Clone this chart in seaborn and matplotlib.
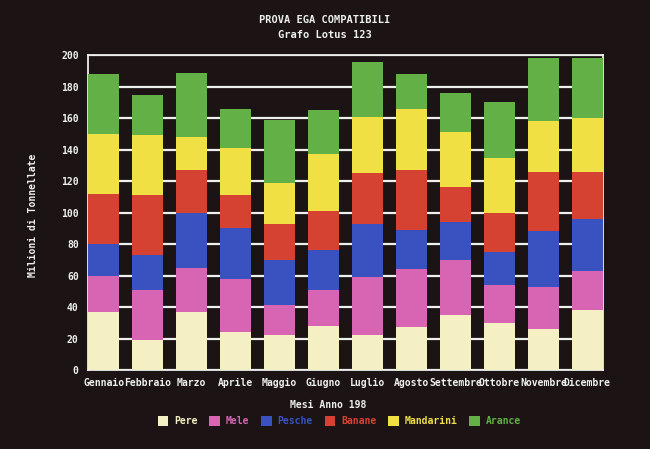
import numpy as np
import pandas as pd
import matplotlib
matplotlib.use("Agg")
import matplotlib.pyplot as plt
from matplotlib.patches import Patch
import seaborn as sns

mesi = ["Gennaio", "Febbraio", "Marzo", "Aprile", "Maggio", "Giugno",
        "Luglio", "Agosto", "Settembre", "Ottobre", "Novembre", "Dicembre"]
serie = ["Pere", "Mele", "Pesche", "Banane", "Mandarini", "Arance"]
pere = [37, 19, 37, 24, 22, 28, 22, 27, 35, 30, 26, 38]
mele = [23, 32, 28, 34, 19, 23, 37, 37, 35, 24, 27, 25]
pesche = [20, 22, 35, 32, 29, 25, 34, 25, 24, 21, 35, 33]
banane = [32, 38, 27, 21, 23, 25, 32, 38, 22, 25, 38, 30]
mandarini = [38, 38, 21, 30, 26, 36, 36, 39, 35, 35, 32, 34]
arance = [38, 26, 41, 25, 40, 28, 35, 22, 25, 35, 40, 38]
yticks = [0, 20, 40, 60, 80, 100, 120, 140, 160, 180, 200]

colori = ["#f4f0c4", "#d864b4", "#3a52c0", "#d64232", "#f0e044", "#62b046"]
BG = "#1b1314"
FG = "#eef0ee"

sns.set_theme(style="dark")
plt.rcParams["font.family"] = ["DejaVu Sans Mono", "DejaVu Sans"]
plt.rcParams["font.weight"] = "bold"

valori = [pere, mele, pesche, banane, mandarini, arance]
cum = np.cumsum(np.array(valori), axis=0)
rows = []
for s, vals in zip(serie, cum):
    for m, v in zip(mesi, vals):
        rows.append({"Mese": m, "Serie": s, "Cum": v})
df = pd.DataFrame(rows)

fig = plt.figure(figsize=(6.5, 4.49), dpi=100, facecolor=BG)
ax = fig.add_axes([0.135, 0.176, 0.793, 0.701])
ax.set_facecolor(BG)

for s, c in reversed(list(zip(serie, colori))):
    sub = df[df["Serie"] == s]
    sns.barplot(data=sub, x="Mese", y="Cum", order=mesi, color=c,
                saturation=1, width=0.72, edgecolor="none", linewidth=0,
                ax=ax, zorder=3)

ax.set_ylim(0, 200)
ax.set_xlim(-0.36, 11.36)
ax.set_yticks(yticks)
ax.set_yticklabels([str(t) for t in yticks])
ax.yaxis.grid(True, color=FG, linewidth=1.6, zorder=1)
ax.xaxis.grid(False)
ax.set_axisbelow(True)
for sp in ax.spines.values():
    sp.set_visible(True)
    sp.set_color(FG)
    sp.set_linewidth(1.3)
ax.tick_params(axis="both", colors=FG, labelsize=7, length=3, width=1,
               direction="out")
ax.tick_params(axis="x", pad=3)
for lab in ax.get_xticklabels() + ax.get_yticklabels():
    lab.set_fontweight("bold")
    lab.set_color(FG)
ax.set_xlabel("")
ax.set_ylabel("")

fig.text(0.05, 0.52, "Milioni di Tonnellate", rotation=90, color=FG,
         fontsize=7, fontweight="bold", ha="center", va="center")
fig.text(0.5, 0.955, "PROVA EGA COMPATIBILI", color=FG, fontsize=7.5,
         fontweight="bold", ha="center", va="center")
fig.text(0.5, 0.922, "Grafo Lotus 123", color=FG, fontsize=7.5,
         fontweight="bold", ha="center", va="center")
fig.text(0.505, 0.098, "Mesi Anno 198", color=FG, fontsize=7,
         fontweight="bold", ha="center", va="center")

handles = [Patch(facecolor=c, edgecolor="none", label=s)
           for s, c in zip(serie, colori)]
leg = fig.legend(handles=handles, loc="center", bbox_to_anchor=(0.522, 0.062),
                 ncol=6, frameon=False, fontsize=7, handlelength=1.1,
                 handleheight=1.1, columnspacing=1.2, handletextpad=0.6,
                 labelcolor=colori)
for t in leg.get_texts():
    t.set_fontweight("bold")

fig.savefig("out.png", dpi=100, facecolor=BG)
